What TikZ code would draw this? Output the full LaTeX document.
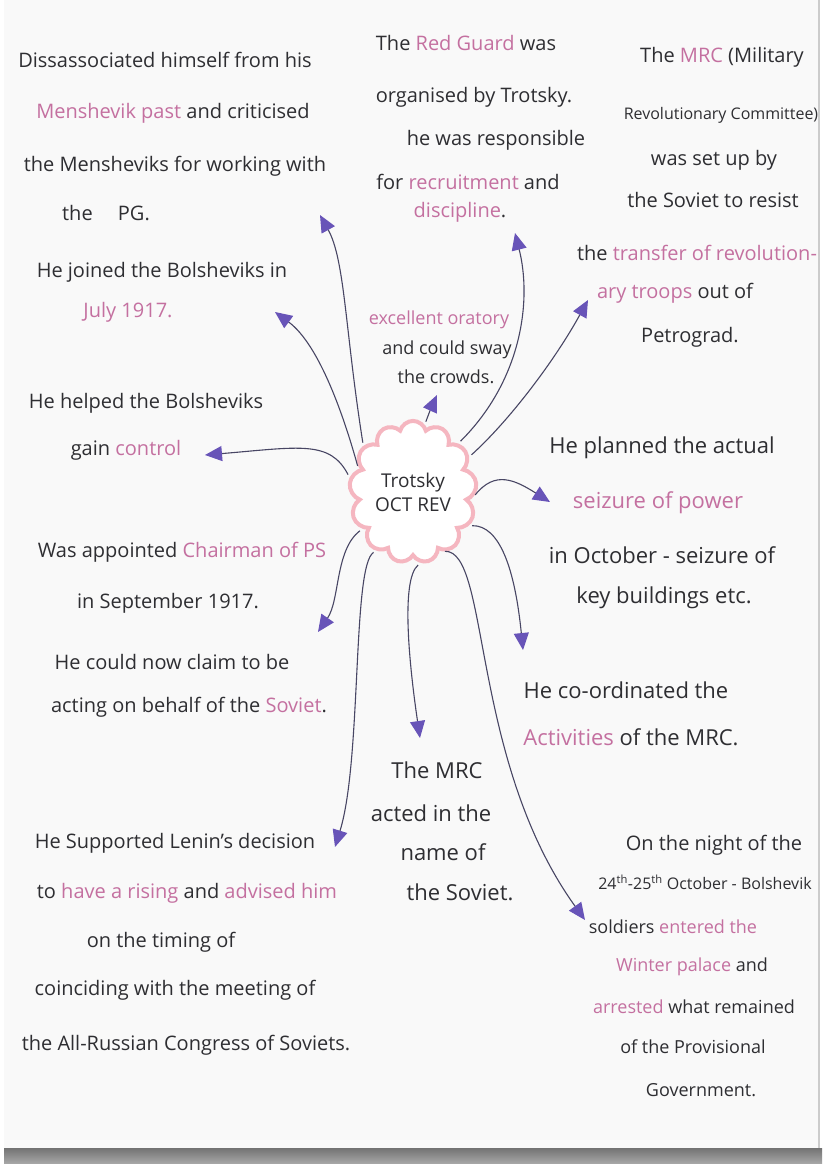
\documentclass[tikz,border=0pt]{standalone}
\usepackage{fontspec}
\setmainfont{Open Sans}
\usetikzlibrary{shapes.symbols,arrows.meta}
\definecolor{ink}{RGB}{46,46,50}
\definecolor{pinkink}{RGB}{196,112,160}
\definecolor{lineink}{RGB}{72,70,100}
\definecolor{tipviolet}{RGB}{104,84,184}
\definecolor{cloudpink}{RGB}{245,182,192}
\definecolor{paper}{RGB}{249,249,249}
\newcommand{\pk}[1]{\textcolor{pinkink}{#1}}

\begin{document}
\begin{tikzpicture}[x=1pt,y=1pt]
\tikzstyle{every node}+=[inner sep=0pt,text=ink,font=\fontsize{20}{24}\selectfont]
\tikzstyle{small}=[font=\fontsize{16}{19}\selectfont]
\tikzstyle{smallish}=[font=\fontsize{18}{21}\selectfont]
\tikzstyle{large}=[font=\fontsize{22}{26}\selectfont]
\tikzstyle{link}=[draw=lineink,line width=1.1pt,shorten <=3pt,-{Triangle[length=17pt,width=15pt,color=tipviolet]}]
\useasboundingbox (0,0) rectangle (828,-1171);
\fill [white] (0,0) rectangle (828,-1171);
\fill [paper] (4,0) rectangle (819,-1148);
\shade [top color=black!55,bottom color=black!35] (4,-1148) rectangle (822,-1163);
\draw [black!20,line width=1.5pt] (819,0) -- (819,-1148);
\draw (165,-60) node (a1) {Dissassociated himself from his};
\draw (173,-113) node (a2) {\pk{Menshevik past} and criticised};
\draw (175,-166) node (a3) {the Mensheviks for working with};
\draw (106,-213) node (a4) {the \quad PG.};
\draw (162,-272) node (a5) {He joined the Bolsheviks in};
\draw (128,-312) node (a6) {\pk{July 1917.}};
\draw (466,-43) node (b1) {The \pk{Red Guard} was};
\draw (474,-97) node (b2) {organised by Trotsky.};
\draw (496,-140) node (b3) {he was responsible};
\draw (468,-182) node (b4) {for \pk{recruitment} and};
\draw (460,-212) node (b5) {\pk{discipline}.};
\draw (722,-57) node (c1) {The \pk{MRC} (Military};
\draw (721,-115) node [small] (c2) {Revolutionary Committee)};
\draw (714,-160) node (c3) {was set up by};
\draw (713,-200) node (c4) {the Soviet to resist};
\draw (697,-253) node (c5) {the \pk{transfer of revolution-}};
\draw (675,-293) node (c6) {\pk{ary troops} out of};
\draw (690,-337) node (c7) {Petrograd.};
\draw (439,-320) node [smallish] (d1) {\pk{excellent oratory}};
\draw (447,-350) node [smallish] (d2) {and could sway};
\draw (446,-377) node [smallish] (d3) {the crowds.};
\draw (146,-403) node (e1) {He helped the Bolsheviks};
\draw (126,-450) node (e2) {gain \pk{control}};
\draw (182,-552) node (f1) {Was appointed \pk{Chairman of PS}};
\draw (168,-603) node (f2) {in September 1917.};
\draw (172,-662) node (f3) {He could now claim to be};
\draw (189,-707) node (f4) {acting on behalf of the \pk{Soviet}.};
\draw (662,-448) node [large] (g1) {He planned the actual};
\draw (658,-503) node [large] (g2) {\pk{seizure of power}};
\draw (662,-555) node [large] (g3) {in October - seizure of};
\draw (664,-598) node [large] (g4) {key buildings etc.};
\draw (626,-690) node [large] (g5) {He co-ordinated the};
\draw (631,-737) node [large] (g6) {\pk{Activities} of the MRC.};
\draw (437,-770) node [large] (h1) {The MRC};
\draw (431,-813) node [large] (h2) {acted in the};
\draw (443,-852) node [large] (h3) {name of};
\draw (460,-892) node [large] (h4) {the Soviet.};
\draw (175,-843) node (i1) {He Supported Lenin's decision};
\draw (187,-893) node (i2) {to \pk{have a rising} and \pk{advised him}};
\draw (161,-942) node (i3) {on the timing of};
\draw (175,-990) node (i4) {coinciding with the meeting of};
\draw (186,-1045) node (i5) {the All-Russian Congress of Soviets.};
\draw (714,-845) node (j1) {On the night of the};
\draw (705,-882) node [small] (j2) {24\textsuperscript{th}-25\textsuperscript{th} October - Bolshevik};
\draw (673,-927) node [smallish] (j3) {soldiers \pk{entered the}};
\draw (692,-967) node [smallish] (j4) {\pk{Winter palace} and};
\draw (694,-1007) node [smallish] (j5) {\pk{arrested} what remained};
\draw (693,-1047) node [smallish] (j6) {of the Provisional};
\draw (701,-1090) node [smallish] (j7) {Government.};
\node [cloud,cloud puffs=13,aspect=0.85,draw=cloudpink,line width=4pt,fill=white,minimum width=100pt,minimum height=116pt,align=center,font=\fontsize{19}{24}\selectfont] (trotsky) at (413,-492) {Trotsky\\OCT REV};
\coordinate (tA) at (320,-215);
\coordinate (tJul) at (275,-312);
\coordinate (tOr) at (437,-395);
\coordinate (tRG) at (515,-233);
\coordinate (tMRC) at (588,-300);
\coordinate (tCtl) at (205,-455);
\coordinate (tSz) at (550,-502);
\coordinate (tPS) at (318,-632);
\coordinate (tLen) at (335,-847);
\coordinate (tAct) at (420,-738);
\coordinate (tWin) at (585,-920);
\coordinate (tCo) at (523,-650);
\draw [link] (trotsky.137) .. controls (345,-330) and (345,-260) .. (tA);
\draw [link] (trotsky.157) .. controls (345,-420) and (320,-345) .. (tJul);
\draw [link] (trotsky.80) .. controls (428,-415) .. (tOr);
\draw [link] (trotsky.47) .. controls (522,-380) and (532,-300) .. (tRG);
\draw [link] (trotsky.32) .. controls (510,-420) and (555,-360) .. (tMRC);
\draw [link] (trotsky.167) .. controls (330,-440) and (300,-447) .. (tCtl);
\draw [link] (trotsky.-5) .. controls (495,-470) and (515,-480) .. (tSz);
\draw [link] (trotsky.216) .. controls (335,-550) and (340,-600) .. (tPS);
\draw [link] (trotsky.238) .. controls (352,-565) and (362,-760) .. (tLen);
\draw [link] (trotsky.276) .. controls (400,-580) and (410,-670) .. (tAct);
\draw [link] (trotsky.296) .. controls (490,-550) and (470,-760) .. (tWin);
\draw [link] (trotsky.329) .. controls (500,-525) and (515,-570) .. (tCo);
\end{tikzpicture}
\end{document}
